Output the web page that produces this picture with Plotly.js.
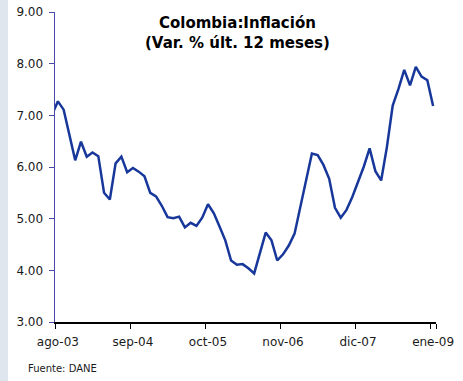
<!DOCTYPE html>
<html>
<head>
<meta charset="utf-8">
<script src="https://cdn.plot.ly/plotly-3.0.1.min.js"></script>
<style>
  html, body { margin: 0; padding: 0; background: #ffffff; }
  #chart { width: 463px; height: 381px; background: linear-gradient(to right, #dfe6ee 0px, #dfe6ee 8px, #ffffff 8px); }
</style>
</head>
<body>
<div id="chart"></div>
<script>
const months = [
  "jul-03","ago-03","sep-03","oct-03","nov-03","dic-03",
  "ene-04","feb-04","mar-04","abr-04","may-04","jun-04","jul-04","ago-04","sep-04","oct-04","nov-04","dic-04",
  "ene-05","feb-05","mar-05","abr-05","may-05","jun-05","jul-05","ago-05","sep-05","oct-05","nov-05","dic-05",
  "ene-06","feb-06","mar-06","abr-06","may-06","jun-06","jul-06","ago-06","sep-06","oct-06","nov-06","dic-06",
  "ene-07","feb-07","mar-07","abr-07","may-07","jun-07","jul-07","ago-07","sep-07","oct-07","nov-07","dic-07",
  "ene-08","feb-08","mar-08","abr-08","may-08","jun-08","jul-08","ago-08","sep-08","oct-08","nov-08","dic-08",
  "ene-09"
];
const inflation = [
  7.02, 7.27, 7.11, 6.64, 6.13, 6.49,
  6.20, 6.28, 6.21, 5.50, 5.37, 6.07, 6.20, 5.90, 5.98, 5.91, 5.82, 5.50,
  5.43, 5.25, 5.03, 5.01, 5.04, 4.83, 4.92, 4.86, 5.02, 5.28, 5.11, 4.85,
  4.58, 4.19, 4.11, 4.12, 4.04, 3.94, 4.33, 4.73, 4.58, 4.19, 4.31, 4.48,
  4.71, 5.24, 5.77, 6.26, 6.23, 6.04, 5.77, 5.21, 5.02, 5.17, 5.42, 5.70,
  6.01, 6.36, 5.92, 5.74, 6.39, 7.19, 7.51, 7.88, 7.58, 7.94, 7.75, 7.68,
  7.18
];
const tickLabels = ["ago-03","sep-04","oct-05","nov-06","dic-07","ene-09"];
const yTicks = [3, 4, 5, 6, 7, 8, 9];
const titleText = "<b>Colombia:Inflación</b><br><b>(Var. % últ. 12 meses)</b>";
const sourceText = "Fuente: DANE";

const trace = {
  x: months,
  y: inflation,
  type: "scatter",
  mode: "lines",
  line: { color: "#17379a", width: 2.5 },
  hoverinfo: "x+y"
};

const layout = {
  width: 463,
  height: 381,
  margin: { l: 55, r: 27, t: 12, b: 59 },
  paper_bgcolor: "rgba(0,0,0,0)",
  plot_bgcolor: "#ffffff",
  showlegend: false,
  font: { family: "DejaVu Sans, Verdana, sans-serif", size: 12, color: "#1a1a1a" },
  xaxis: {
    type: "category",
    categoryorder: "array",
    categoryarray: months,
    range: [0.5, 66.5],
    tickmode: "array",
    tickvals: tickLabels,
    ticktext: tickLabels,
    tickson: "boundaries",
    ticks: "outside",
    ticklen: 5,
    tickwidth: 1,
    tickcolor: "#000000",
    ticklabelstandoff: 8,
    showline: true,
    linecolor: "#000000",
    linewidth: 1.5,
    showgrid: false,
    zeroline: false,
    tickangle: 0,
    tickfont: { size: 12, color: "#1a1a1a" }
  },
  yaxis: {
    range: [3, 9],
    tickmode: "array",
    tickvals: yTicks,
    tickformat: ".2f",
    ticks: "outside",
    ticklen: 5,
    tickwidth: 1,
    tickcolor: "#4a4aa8",
    ticklabelstandoff: 3,
    showline: true,
    linecolor: "#4a4aa8",
    linewidth: 1.5,
    showgrid: false,
    zeroline: false,
    tickfont: { size: 12, color: "#1a1a1a" }
  },
  annotations: [
    {
      text: titleText,
      xref: "paper", yref: "paper",
      x: (237 - 55) / 381, xanchor: "center",
      y: 1.0, yanchor: "top",
      showarrow: false,
      align: "center",
      font: { family: "DejaVu Sans, Verdana, sans-serif", size: 15, color: "#000000" }
    },
    {
      text: sourceText,
      xref: "paper", yref: "paper",
      x: -29 / 381, xanchor: "left",
      y: -(368 - 322) / 310, yanchor: "middle",
      showarrow: false,
      font: { family: "DejaVu Sans, Verdana, sans-serif", size: 10, color: "#1a1a1a" }
    }
  ]
};

Plotly.newPlot("chart", [trace], layout, { displayModeBar: false, staticPlot: true });
</script>
</body>
</html>
